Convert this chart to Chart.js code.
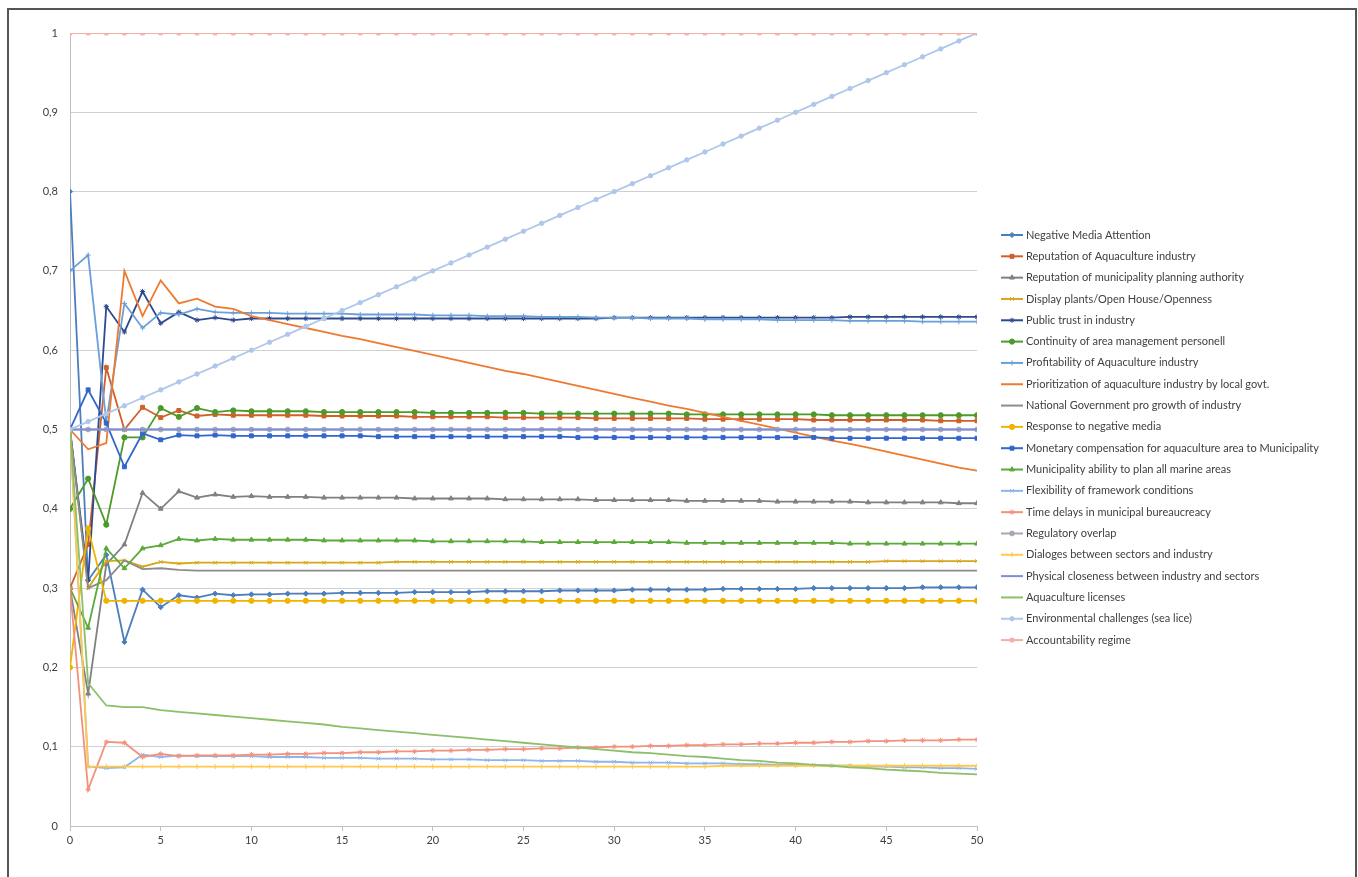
<!DOCTYPE html>
<html>
<head>
<meta charset="utf-8">
<script src="https://cdn.jsdelivr.net/npm/chart.js@4/dist/chart.umd.min.js"></script>
<style>
html,body{margin:0;padding:0;background:#fff;}
#wrap{position:absolute;left:0;top:0;width:1358px;height:877px;}
#frame{position:absolute;left:7px;top:8px;width:1346px;height:880px;border:2px solid #555;border-bottom:none;pointer-events:none;}
</style>
</head>
<body>
<div id="wrap"><canvas id="c"></canvas></div>
<div id="frame"></div>
<script>
const steps = [0,1,2,3,4,5,6,7,8,9,10,11,12,13,14,15,16,17,18,19,20,21,22,23,24,25,26,27,28,29,30,31,32,33,34,35,36,37,38,39,40,41,42,43,44,45,46,47,48,49,50];
const xTicks = [0,5,10,15,20,25,30,35,40,45,50];
const yTicks = [0,0.1,0.2,0.3,0.4,0.5,0.6,0.7,0.8,0.9,1];

const negativeMedia = [0.800,0.310,0.342,0.232,0.298,0.276,0.291,0.288,0.293,0.291,
 0.292,0.292,0.293,0.293,0.293,0.294,0.294,0.294,0.294,0.295,
 0.295,0.295,0.295,0.296,0.296,0.296,0.296,0.297,0.297,0.297,
 0.297,0.298,0.298,0.298,0.298,0.298,0.299,0.299,0.299,0.299,
 0.299,0.300,0.300,0.300,0.300,0.300,0.300,0.301,0.301,0.301,0.301];
const reputationAqua = [0.300,0.355,0.578,0.500,0.528,0.515,0.524,0.517,0.519,0.518,
 0.518,0.518,0.518,0.518,0.517,0.517,0.517,0.517,0.517,0.516,
 0.516,0.516,0.516,0.516,0.515,0.515,0.515,0.515,0.515,0.514,
 0.514,0.514,0.514,0.514,0.514,0.513,0.513,0.513,0.513,0.513,
 0.513,0.512,0.512,0.512,0.512,0.512,0.512,0.512,0.511,0.511,0.511];
const reputationMunicipality = [0.300,0.167,0.330,0.355,0.420,0.400,0.422,0.414,0.418,0.415,
 0.416,0.415,0.415,0.415,0.414,0.414,0.414,0.414,0.414,0.413,
 0.413,0.413,0.413,0.413,0.412,0.412,0.412,0.412,0.412,0.411,
 0.411,0.411,0.411,0.411,0.410,0.410,0.410,0.410,0.410,0.409,
 0.409,0.409,0.409,0.409,0.408,0.408,0.408,0.408,0.408,0.407,0.407];
const displayPlants = [0.500,0.300,0.334,0.335,0.327,0.333,0.331,0.332,0.332,0.332,
 0.332,0.332,0.332,0.332,0.332,0.332,0.332,0.332,0.333,0.333,
 0.333,0.333,0.333,0.333,0.333,0.333,0.333,0.333,0.333,0.333,
 0.333,0.333,0.333,0.333,0.333,0.333,0.333,0.333,0.333,0.333,
 0.333,0.333,0.333,0.333,0.333,0.334,0.334,0.334,0.334,0.334,0.334];
const publicTrust = [0.500,0.310,0.655,0.623,0.674,0.634,0.648,0.638,0.641,0.638,
 0.640,0.640,0.640,0.640,0.640,0.640,0.640,0.640,0.640,0.640,
 0.640,0.640,0.640,0.640,0.640,0.640,0.640,0.640,0.640,0.640,
 0.641,0.641,0.641,0.641,0.641,0.641,0.641,0.641,0.641,0.641,
 0.641,0.641,0.641,0.642,0.642,0.642,0.642,0.642,0.642,0.642,0.642];
const continuity = [0.400,0.438,0.380,0.490,0.490,0.527,0.516,0.527,0.522,0.524,
 0.523,0.523,0.523,0.523,0.522,0.522,0.522,0.522,0.522,0.522,
 0.521,0.521,0.521,0.521,0.521,0.521,0.520,0.520,0.520,0.520,
 0.520,0.520,0.520,0.520,0.519,0.519,0.519,0.519,0.519,0.519,
 0.519,0.519,0.518,0.518,0.518,0.518,0.518,0.518,0.518,0.518,0.518];
const profitability = [0.700,0.720,0.510,0.659,0.628,0.647,0.645,0.652,0.648,0.647,
 0.647,0.647,0.646,0.646,0.646,0.646,0.645,0.645,0.645,0.645,
 0.644,0.644,0.644,0.643,0.643,0.643,0.642,0.642,0.642,0.641,
 0.641,0.641,0.640,0.640,0.640,0.639,0.639,0.639,0.639,0.638,
 0.638,0.638,0.638,0.637,0.637,0.637,0.637,0.636,0.636,0.636,0.636];
const prioritization = [0.500,0.475,0.483,0.700,0.643,0.688,0.659,0.665,0.655,0.652,
 0.643,0.638,0.633,0.628,0.623,0.618,0.614,0.609,0.604,0.599,
 0.594,0.589,0.584,0.579,0.574,0.570,0.565,0.560,0.555,0.550,
 0.545,0.540,0.535,0.530,0.526,0.521,0.516,0.511,0.506,0.501,
 0.496,0.491,0.486,0.482,0.477,0.472,0.467,0.462,0.457,0.452,0.448];
const nationalGov = [0.500,0.300,0.310,0.335,0.324,0.325,0.323,0.322,0.322,0.322,
 0.322,0.322,0.322,0.322,0.322,0.322,0.322,0.322,0.322,0.322,
 0.322,0.322,0.322,0.322,0.322,0.322,0.322,0.322,0.322,0.322,
 0.322,0.322,0.322,0.322,0.322,0.322,0.322,0.322,0.322,0.322,
 0.322,0.322,0.322,0.322,0.322,0.322,0.322,0.322,0.322,0.322,0.322];
const responseMedia = [0.200,0.375,0.284,0.284,0.284,0.284,0.284,0.284,0.284,0.284,
 0.284,0.284,0.284,0.284,0.284,0.284,0.284,0.284,0.284,0.284,
 0.284,0.284,0.284,0.284,0.284,0.284,0.284,0.284,0.284,0.284,
 0.284,0.284,0.284,0.284,0.284,0.284,0.284,0.284,0.284,0.284,
 0.284,0.284,0.284,0.284,0.284,0.284,0.284,0.284,0.284,0.284,0.284];
const monetaryComp = [0.500,0.550,0.508,0.453,0.495,0.487,0.493,0.492,0.493,0.492,
 0.492,0.492,0.492,0.492,0.492,0.492,0.492,0.491,0.491,0.491,
 0.491,0.491,0.491,0.491,0.491,0.491,0.491,0.491,0.490,0.490,
 0.490,0.490,0.490,0.490,0.490,0.490,0.490,0.490,0.490,0.490,
 0.490,0.490,0.489,0.489,0.489,0.489,0.489,0.489,0.489,0.489,0.489];
const municipalityAbility = [0.300,0.250,0.350,0.325,0.350,0.354,0.362,0.360,0.362,0.361,
 0.361,0.361,0.361,0.361,0.360,0.360,0.360,0.360,0.360,0.360,
 0.359,0.359,0.359,0.359,0.359,0.359,0.358,0.358,0.358,0.358,
 0.358,0.358,0.358,0.358,0.357,0.357,0.357,0.357,0.357,0.357,
 0.357,0.357,0.357,0.356,0.356,0.356,0.356,0.356,0.356,0.356,0.356];
const flexibility = [0.500,0.075,0.073,0.074,0.090,0.087,0.089,0.088,0.088,0.088,
 0.088,0.087,0.087,0.087,0.086,0.086,0.086,0.085,0.085,0.085,
 0.084,0.084,0.084,0.083,0.083,0.083,0.082,0.082,0.082,0.081,
 0.081,0.080,0.080,0.080,0.079,0.079,0.079,0.078,0.078,0.077,
 0.077,0.077,0.076,0.076,0.075,0.075,0.074,0.074,0.073,0.073,0.072];
const timeDelays = [0.300,0.046,0.106,0.105,0.087,0.091,0.088,0.089,0.089,0.089,
 0.090,0.090,0.091,0.091,0.092,0.092,0.093,0.093,0.094,0.094,
 0.095,0.095,0.096,0.096,0.097,0.097,0.098,0.098,0.099,0.099,
 0.100,0.100,0.101,0.101,0.102,0.102,0.103,0.103,0.104,0.104,
 0.105,0.105,0.106,0.106,0.107,0.107,0.108,0.108,0.108,0.109,0.109];
const regulatoryOverlap = [0.5,0.5,0.5,0.5,0.5,0.5,0.5,0.5,0.5,0.5,
 0.5,0.5,0.5,0.5,0.5,0.5,0.5,0.5,0.5,0.5,
 0.5,0.5,0.5,0.5,0.5,0.5,0.5,0.5,0.5,0.5,
 0.5,0.5,0.5,0.5,0.5,0.5,0.5,0.5,0.5,0.5,
 0.5,0.5,0.5,0.5,0.5,0.5,0.5,0.5,0.5,0.5,0.5];
const dialoges = [0.500,0.075,0.075,0.075,0.075,0.075,0.075,0.075,0.075,0.075,
 0.075,0.075,0.075,0.075,0.075,0.075,0.075,0.075,0.075,0.075,
 0.075,0.075,0.075,0.075,0.075,0.075,0.075,0.075,0.075,0.075,
 0.075,0.075,0.075,0.075,0.075,0.075,0.076,0.076,0.076,0.076,
 0.076,0.076,0.076,0.076,0.076,0.076,0.076,0.076,0.076,0.076,0.076];
const physicalCloseness = [0.5,0.5,0.5,0.5,0.5,0.5,0.5,0.5,0.5,0.5,
 0.5,0.5,0.5,0.5,0.5,0.5,0.5,0.5,0.5,0.5,
 0.5,0.5,0.5,0.5,0.5,0.5,0.5,0.5,0.5,0.5,
 0.5,0.5,0.5,0.5,0.5,0.5,0.5,0.5,0.5,0.5,
 0.5,0.5,0.5,0.5,0.5,0.5,0.5,0.5,0.5,0.5,0.5];
const licenses = [0.500,0.180,0.152,0.150,0.150,0.146,0.144,0.142,0.140,0.138,
 0.136,0.134,0.132,0.130,0.128,0.125,0.123,0.121,0.119,0.117,
 0.115,0.113,0.111,0.109,0.107,0.105,0.103,0.101,0.099,0.097,
 0.095,0.093,0.092,0.090,0.088,0.087,0.085,0.083,0.082,0.080,
 0.079,0.077,0.076,0.074,0.073,0.071,0.070,0.069,0.067,0.066,0.065];
const environmental = [0.50,0.51,0.52,0.53,0.54,0.55,0.56,0.57,0.58,0.59,
 0.60,0.61,0.62,0.63,0.64,0.65,0.66,0.67,0.68,0.69,
 0.70,0.71,0.72,0.73,0.74,0.75,0.76,0.77,0.78,0.79,
 0.80,0.81,0.82,0.83,0.84,0.85,0.86,0.87,0.88,0.89,
 0.90,0.91,0.92,0.93,0.94,0.95,0.96,0.97,0.98,0.99,1.00];
const accountability = [1,1,1,1,1,1,1,1,1,1,
 1,1,1,1,1,1,1,1,1,1,
 1,1,1,1,1,1,1,1,1,1,
 1,1,1,1,1,1,1,1,1,1,
 1,1,1,1,1,1,1,1,1,1,1];

const seriesNames = [
 "Negative Media Attention",
 "Reputation of Aquaculture industry",
 "Reputation of municipality planning authority",
 "Display plants/Open House/Openness",
 "Public trust in industry",
 "Continuity of area management personell",
 "Profitability of Aquaculture industry",
 "Prioritization of aquaculture industry by local govt.",
 "National Government pro growth of industry",
 "Response to negative media",
 "Monetary compensation for aquaculture area to Municipality",
 "Municipality ability to plan all marine areas",
 "Flexibility of framework conditions",
 "Time delays in municipal bureaucreacy",
 "Regulatory overlap",
 "Dialoges between sectors and industry",
 "Physical closeness between industry and sectors",
 "Aquaculture licenses",
 "Environmental challenges (sea lice)",
 "Accountability regime"
];
const seriesValues = [negativeMedia, reputationAqua, reputationMunicipality, displayPlants, publicTrust,
 continuity, profitability, prioritization, nationalGov, responseMedia, monetaryComp, municipalityAbility,
 flexibility, timeDelays, regulatoryOverlap, dialoges, physicalCloseness, licenses, environmental, accountability];

const colors = ["#4C7EBD","#D0602A","#808080","#D6A818","#2E4A8F","#4D9A2A","#6A9FD8","#EE7A30","#8C8C8C","#F0B400",
 "#3366CC","#5BAA3A","#8EB5E5","#F4917C","#A8A8B4","#FFC84A","#7C8FD8","#8BBF6A","#AFC7EA","#F5AFA5"];
const markers = ["rectRot","rect","triangle","crossRot","star","circle","cross",false,false,"circle",
 "rect","triangle","crossRot","star","circle","cross",false,false,"circle","rect"];
const markerSizes = [2.6,2.8,2.8,2.6,2.6,2.6,2.6,0,0,2.6,2.8,2.8,2.6,2.6,2.4,2.6,0,0,2.2,2.6];

const datasets = seriesValues.map((vals, i) => ({
  label: seriesNames[i],
  data: vals.map((v, j) => ({x: steps[j], y: v})),
  borderColor: colors[i],
  backgroundColor: colors[i],
  borderWidth: 1.8,
  pointStyle: markers[i] || 'circle',
  pointRadius: markers[i] ? markerSizes[i] : 0,
  pointBorderWidth: 1,
  pointBorderColor: colors[i],
  pointBackgroundColor: colors[i],
  tension: 0,
  order: 20 - i
}));

const legendPlugin = {
  id: 'excelLegend',
  afterDraw(chart) {
    const ctx = chart.ctx;
    ctx.save();
    ctx.font = '11px Lato, "Open Sans", sans-serif';
    ctx.textBaseline = 'middle';
    ctx.textAlign = 'left';
    chart.data.datasets.forEach((ds, i) => {
      const y = 235 + i * 21.32;
      ctx.strokeStyle = ds.borderColor;
      ctx.lineWidth = 2;
      ctx.beginPath();
      ctx.moveTo(1001, y);
      ctx.lineTo(1023, y);
      ctx.stroke();
      if (markers[i]) {
        ctx.fillStyle = ds.borderColor;
        ctx.lineWidth = 1;
        Chart.helpers.drawPoint(ctx, {pointStyle: markers[i], radius: markerSizes[i], borderWidth: 1, rotation: 0}, 1012, y);
      }
      ctx.fillStyle = '#404040';
      ctx.fillText(ds.label, 1026, y);
    });
    ctx.restore();
  }
};

new Chart(document.getElementById('c'), {
  type: 'line',
  data: { datasets },
  plugins: [legendPlugin],
  options: {
    responsive: true,
    maintainAspectRatio: false,
    animation: false,
    layout: { padding: { left: 30, top: 33, right: 381, bottom: 21 } },
    plugins: { legend: { display: false }, tooltip: { enabled: false } },
    scales: {
      x: {
        type: 'linear',
        min: 0, max: 50,
        afterFit: s => { s.height = 30; },
        afterBuildTicks: s => { s.ticks = xTicks.map(v => ({value: v})); },
        ticks: { color: '#404040', font: { size: 11, family: 'Lato, "Open Sans", sans-serif' }, padding: 3, maxRotation: 0 },
        grid: { drawOnChartArea: false, drawTicks: true, tickLength: 5, color: '#bfbfbf' },
        border: { display: true, color: '#bfbfbf', width: 1 }
      },
      y: {
        min: 0, max: 1,
        afterFit: s => { s.width = 40; },
        afterBuildTicks: s => { s.ticks = yTicks.map(v => ({value: v})); },
        ticks: {
          color: '#404040', padding: 12,
          font: { size: 11, family: 'Lato, "Open Sans", sans-serif' },
          callback: v => { const r = Math.round(v * 10) / 10; return (r === 0 || r === 1) ? String(r) : r.toFixed(1).replace('.', ','); }
        },
        grid: { drawTicks: false, color: '#d0d0d0', lineWidth: 1 },
        border: { display: true, color: '#bfbfbf', width: 1 }
      }
    }
  }
});
</script>
</body>
</html>
